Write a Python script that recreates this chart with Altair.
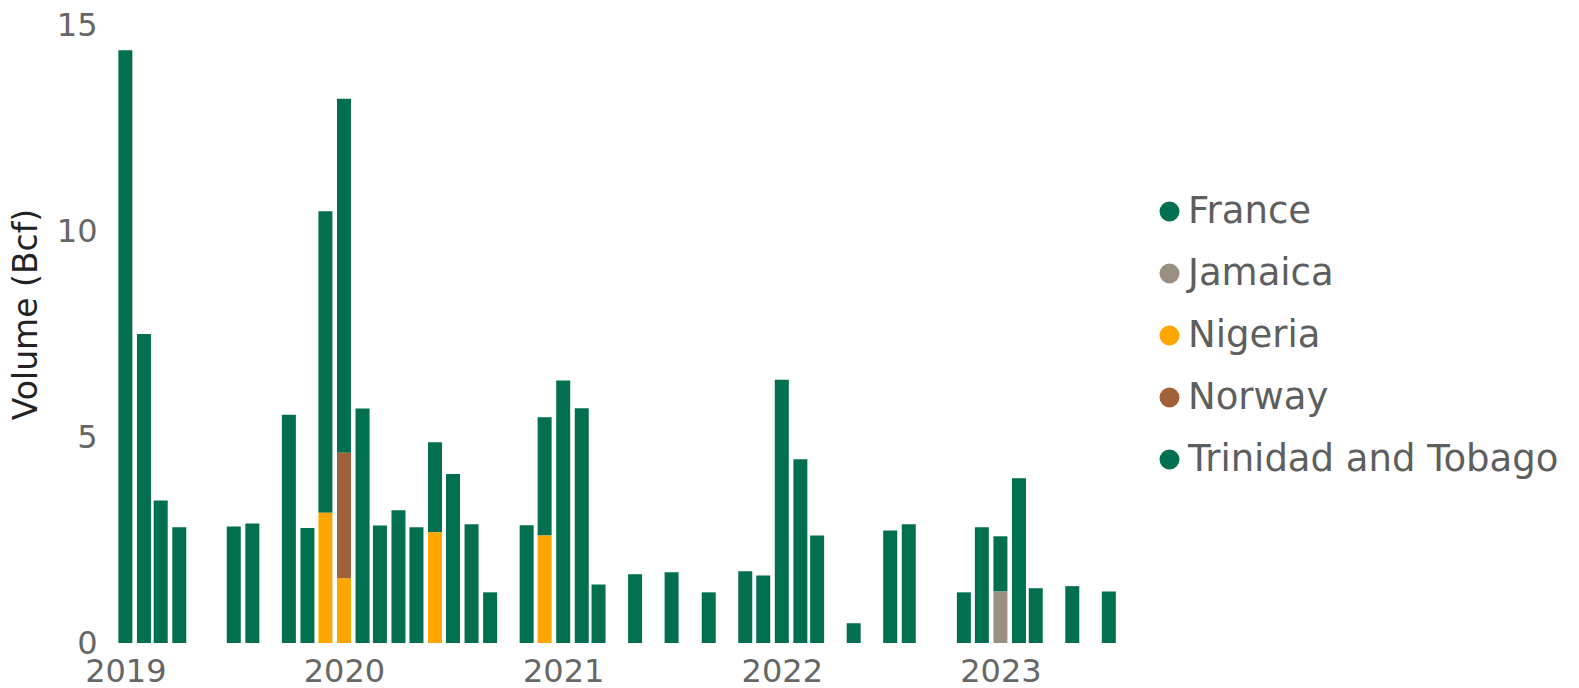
import altair as alt
import pandas as pd

# ---- data (Bcf, monthly) ----
tt_months = ["2019-01", "2019-02", "2019-03", "2019-04", "2019-07", "2019-08", "2019-10",
             "2019-11", "2019-12", "2020-01", "2020-02", "2020-03", "2020-04", "2020-05",
             "2020-06", "2020-07", "2020-08", "2020-09", "2020-11", "2020-12", "2021-01",
             "2021-02", "2021-03", "2021-05", "2021-07", "2021-09", "2021-11", "2021-12",
             "2022-01", "2022-02", "2022-03", "2022-05", "2022-07", "2022-08", "2022-11",
             "2022-12", "2023-01", "2023-02", "2023-03", "2023-05", "2023-07"]
tt_values = [14.39, 7.50, 3.46, 2.81, 2.83, 2.90, 5.54,
             2.79, 7.32, 8.59, 5.69, 2.85, 3.22, 2.81,
             2.18, 4.10, 2.88, 1.23, 2.86, 2.87, 6.37,
             5.70, 1.42, 1.67, 1.72, 1.23, 1.74, 1.64,
             6.39, 4.46, 2.61, 0.48, 2.73, 2.88, 1.23,
             2.81, 1.34, 4.00, 1.33, 1.38, 1.25]

nigeria_months = ["2019-12", "2020-01", "2020-06", "2020-12"]
nigeria_values = [3.16, 1.57, 2.69, 2.61]

norway_months = ["2020-01"]
norway_values = [3.05]

jamaica_months = ["2023-01"]
jamaica_values = [1.25]

france_months = []
france_values = []

countries = ["France", "Jamaica", "Nigeria", "Norway", "Trinidad and Tobago"]
colors = ["#036F51", "#9B8F84", "#FFA600", "#A1623A", "#036F51"]
stack_rank = {"Nigeria": 1, "Jamaica": 1, "Norway": 2, "France": 3, "Trinidad and Tobago": 4}

series = [
    ("Trinidad and Tobago", tt_months, tt_values),
    ("Nigeria", nigeria_months, nigeria_values),
    ("Norway", norway_months, norway_values),
    ("Jamaica", jamaica_months, jamaica_values),
    ("France", france_months, france_values),
]

rows = []
for name, months, values in series:
    for m, v in zip(months, values):
        rows.append({"date": m + "-01T00:00:00", "country": name, "value": v,
                     "rank": stack_rank[name]})
df = pd.DataFrame(rows)

year_ticks = [alt.DateTime(year=y, month=1, date=1) for y in [2019, 2020, 2021, 2022, 2023]]

chart = alt.Chart(df).mark_bar(size=14).encode(
    x=alt.X("date:T",
            scale=alt.Scale(domain=[alt.DateTime(year=2018, month=12, date=8),
                                    alt.DateTime(year=2023, month=7, date=18)],
                            padding=0),
            axis=alt.Axis(values=year_ticks, format="%Y", title=None, grid=False,
                          domain=False, ticks=False, labelFontSize=32,
                          labelColor="#666666", labelPadding=13, labelFont="DejaVu Sans",
                          labelFlush=False, labelOverlap=False)),
    y=alt.Y("value:Q", stack="zero",
            scale=alt.Scale(domain=[0, 15], nice=False),
            axis=alt.Axis(values=[0, 5, 10, 15], title="Volume (Bcf)", grid=False,
                          domain=False, ticks=False, labelFontSize=32,
                          labelColor="#666666", labelPadding=14, labelFont="DejaVu Sans",
                          titleFont="DejaVu Sans", titleFontSize=33, titleFontWeight="normal",
                          titleColor="#222222", titleAngle=-90, titleAlign="center",
                          titleBaseline="middle", titleX=-85, titleY=289)),
    color=alt.Color("country:N",
                    scale=alt.Scale(domain=countries, range=colors),
                    legend=alt.Legend(title=None, orient="none", legendX=1040, legendY=168,
                                      symbolType="circle", symbolSize=400,
                                      symbolStrokeWidth=0, labelFontSize=37,
                                      labelFont="DejaVu Sans", labelColor="#5E5E5E",
                                      labelOffset=0, rowPadding=24, padding=0,
                                      labelLimit=600)),
    order=alt.Order("rank:Q", sort="ascending"),
).properties(
    width=1008,
    height=618,
    autosize="none",
    padding={"left": 103, "top": 17, "right": 448, "bottom": 45},
).configure_view(stroke=None)

chart.save("out.html", embed_options={"renderer": "svg", "actions": False})
